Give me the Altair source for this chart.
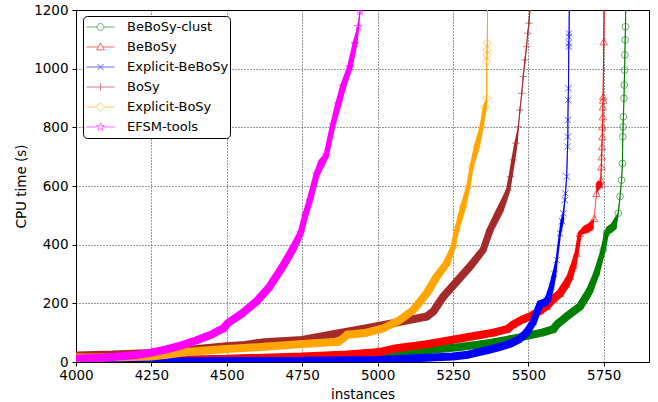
import altair as alt
import pandas as pd

names = ["BeBoSy-clust", "BeBoSy", "Explicit-BeBoSy", "BoSy", "Explicit-BoSy", "EFSM-tools"]
colors = ["#008000", "#ff0000", "#0000ff", "#a52a2a", "#ffa500", "#ff00ff"]

# cactus curves: number of solved instances (n) vs CPU time (t, seconds)
clust_n = [4000, 4250, 4500, 4750, 4942, 5000, 5052, 5163, 5273, 5339, 5384, 5472, 5549, 5583, 5590,
           5597, 5627, 5649, 5671, 5693, 5704, 5726, 5748, 5759, 5770, 5781, 5798, 5804, 5809, 5812,
           5813, 5814, 5815, 5817, 5818, 5819, 5820, 5821, 5822, 5823]
clust_t = [1, 3, 6, 11, 20, 22, 27, 40, 51, 60, 67, 84, 101, 112, 122,
           130, 155, 172, 189, 225, 245, 302, 382, 439, 452, 461, 507, 564, 620, 677,
           768, 802, 836, 899, 944, 995, 1047, 1098, 1143, 1250]

bebosy_n = [4000, 4250, 4500, 4750, 4900, 5000, 5052, 5163, 5273, 5339, 5384, 5430, 5450, 5480, 5505,
            5539, 5561, 5583, 5605, 5625, 5638, 5650, 5660, 5671, 5690, 5704, 5718, 5726, 5735, 5740,
            5742, 5743, 5744, 5745, 5746, 5747, 5747, 5748, 5748, 5750, 5751]
bebosy_t = [3, 6, 11, 19, 26, 33, 45, 61, 80, 92, 100, 112, 128, 145, 155,
            175, 190, 215, 234, 265, 291, 330, 371, 439, 452, 461, 490, 575, 605, 620,
            666, 700, 734, 768, 802, 836, 870, 893, 905, 1092, 1250]

ebebosy_n = [4000, 4250, 4500, 4750, 5000, 5107, 5250, 5300, 5362, 5400, 5439, 5470, 5494, 5516, 5530,
             5540, 5555, 5565, 5577, 5586, 5594, 5605, 5612, 5616, 5621, 5623, 5627, 5630, 5631, 5631,
             5632, 5633, 5634, 5634, 5635, 5635, 5636]
ebebosy_t = [1, 2, 3, 4, 7, 12, 19, 25, 40, 50, 62, 78, 100, 135, 175,
             198, 203, 215, 257, 300, 348, 439, 480, 507, 552, 575, 632, 734, 768, 825,
             893, 933, 1075, 1087, 1109, 1120, 1250]

bosy_n = [4000, 4125, 4250, 4375, 4500, 4560, 4600, 4625, 4750, 4853, 4964, 5074, 5163, 5185, 5218,
          5262, 5306, 5350, 5373, 5406, 5433, 5441, 5450, 5459, 5467, 5472, 5478, 5483, 5489, 5494,
          5498, 5502, 5505, 5506]
bosy_t = [22, 26, 31, 42, 54, 58, 64, 67, 75, 95, 115, 137, 155, 172, 223,
          274, 325, 382, 450, 518, 586, 632, 689, 746, 802, 859, 916, 973, 1030, 1075,
          1121, 1155, 1200, 1250]

ebosy_n = [4000, 4150, 4250, 4300, 4375, 4500, 4625, 4750, 4870, 4885, 4900, 4964, 5019, 5074, 5118,
           5163, 5196, 5229, 5251, 5262, 5284, 5301, 5312, 5329, 5345, 5356, 5362, 5362, 5363, 5363,
           5364, 5365]
ebosy_t = [15, 16, 19, 25, 35, 44, 52, 61, 69, 80, 93, 100, 115, 143, 177,
           234, 291, 336, 393, 450, 530, 598, 666, 734, 802, 870, 899, 1024, 1047, 1064,
           1087, 1250]

efsm_n = [4000, 4100, 4200, 4250, 4300, 4350, 4400, 4450, 4475, 4490, 4503, 4550, 4600, 4641, 4685,
          4719, 4745, 4760, 4775, 4798, 4815, 4830, 4852, 4870, 4886, 4908, 4925, 4936, 4942, 4943]
efsm_t = [11, 15, 24, 32, 43, 57, 74, 94, 108, 115, 132, 165, 208, 255, 325,
          385, 440, 500, 550, 640, 680, 705, 810, 880, 940, 1005, 1085, 1143, 1195, 1250]

series_n = [clust_n, bebosy_n, ebebosy_n, bosy_n, ebosy_n, efsm_n]
series_t = [clust_t, bebosy_t, ebebosy_t, bosy_t, ebosy_t, efsm_t]

x_ticks = [4000, 4250, 4500, 4750, 5000, 5250, 5500, 5750]
y_ticks = [0, 200, 400, 600, 800, 1000, 1200]

df = pd.concat(
    [pd.DataFrame({"series": nm, "n": ns, "t": ts}) for nm, ns, ts in zip(names, series_n, series_t)],
    ignore_index=True,
)

STAR = ("M0,-1L0.2245,-0.309L0.9511,-0.309L0.3633,0.118L0.5878,0.809L0,0.382L-0.5878,0.809"
        "L-0.3633,0.118L-0.9511,-0.309L-0.2245,-0.309Z")
marker_shapes = ["circle", "triangle-up", "M-1,-1L1,1M-1,1L1,-1", "M-1,0L1,0M0,-1L0,1", "diamond", STAR]
marker_sizes = [45, 55, 40, 55, 65, 70]

legend_paths = [
    "M-0.875,0L-0.22,0M0.22,0L0.875,0M-0.22,0A0.22,0.22 0 1 0 0.22,0A0.22,0.22 0 1 0 -0.22,0Z",
    "M-0.875,0L-0.145,0M0.145,0L0.875,0M0,-0.25L0.25,0.18L-0.25,0.18Z",
    "M-0.875,0L0.875,0M-0.19,-0.19L0.19,0.19M-0.19,0.19L0.19,-0.19",
    "M-0.875,0L0.875,0M0,-0.22L0,0.22",
    "M-0.875,0L-0.26,0M0.26,0L0.875,0M0,-0.26L0.26,0L0,0.26L-0.26,0Z",
    "M-0.875,0L-0.2,0M0.2,0L0.875,0M0,-0.26L0.0584,-0.0803L0.2473,-0.0803L0.0945,0.0307L0.1528,0.2103"
    "L0,0.0993L-0.1528,0.2103L-0.0945,0.0307L-0.2473,-0.0803L-0.0584,-0.0803Z",
]

x_enc = alt.X("n:Q", scale=alt.Scale(domain=[4000, 5900], nice=False, zero=False),
              axis=alt.Axis(values=x_ticks, format="d", title="instances", labelFlush=False))
y_enc = alt.Y("t:Q", scale=alt.Scale(domain=[0, 1200], nice=False),
              axis=alt.Axis(values=y_ticks, format="d", title="CPU time (s)"))

base = alt.Chart(df)
layers = []
for nm, col, shp, sz in zip(names, colors, marker_shapes, marker_sizes):
    sub = base.transform_filter(alt.datum.series == nm)
    trail = sub.transform_window(
        n_prev="lag(n)", t_prev="lag(t)", n_next="lead(n)", t_next="lead(t)",
        sort=[alt.SortField("t")],
    ).transform_calculate(
        r_prev="isValid(datum.n_prev) ? (datum.t - datum.t_prev) / max(datum.n - datum.n_prev, 0.3) : 0",
    ).transform_calculate(
        r_next="isValid(datum.n_next) ? (datum.t_next - datum.t) / max(datum.n_next - datum.n, 0.3) : 0",
    ).transform_calculate(
        w="clamp(8 - 0.9 * (max(datum.r_prev, datum.r_next) - 2), 0, 8)",
    ).mark_trail(clip=True, color=col).encode(
        x=x_enc, y=y_enc, size=alt.Size("w:Q", scale=None, legend=None), order=alt.Order("t:Q")
    )
    line = sub.mark_line(clip=True, color=col, strokeWidth=1.1, opacity=0.55).encode(
        x=x_enc, y=y_enc, order=alt.Order("t:Q")
    )
    pts = sub.mark_point(clip=True, shape=shp, size=sz, filled=False, color=col,
                         strokeWidth=1, opacity=0.6).encode(x=x_enc, y=y_enc)
    layers += [trail, line, pts]

leg_def = alt.Legend(
    title=None, orient="none", legendX=7, legendY=6, padding=1,
    strokeColor="black", fillColor="white", cornerRadius=4,
    labelFont="DejaVu Sans", labelFontSize=13, labelColor="black", labelOffset=10,
    symbolSize=1024, clipHeight=20, rowPadding=0, symbolStrokeWidth=1, symbolOpacity=0.6,
)
legend_layer = base.transform_filter("false").mark_point(filled=False, strokeWidth=1, opacity=0.6).encode(
    x=x_enc, y=y_enc,
    color=alt.Color("series:N", scale=alt.Scale(domain=names, range=colors), legend=leg_def),
    shape=alt.Shape("series:N", scale=alt.Scale(domain=names, range=legend_paths), legend=leg_def),
)

chart = alt.layer(*layers, legend_layer).properties(
    width=573, height=352,
    autosize=alt.AutoSizeParams(type="none"),
    padding={"left": 76, "top": 10, "right": 9, "bottom": 40},
).configure_axis(
    labelFont="DejaVu Sans", labelFontSize=13.5, labelColor="black",
    titleFont="DejaVu Sans", titleFontSize=13.5, titleFontWeight="normal", titleColor="black",
    domainColor="black", domainWidth=1, tickColor="black", tickSize=4, tickWidth=1,
    gridColor="black", gridOpacity=1, gridWidth=0.8, gridDash=[1, 2],
).configure_axisX(labelPadding=2, titlePadding=6).configure_axisY(labelPadding=4, titlePadding=5).configure_view(
    stroke="black", strokeWidth=1
)

chart.save("out.html", embed_options={"renderer": "svg", "actions": False})
